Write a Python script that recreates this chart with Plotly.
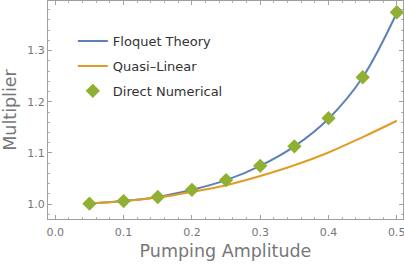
import plotly.graph_objects as go

amp = [0.05, 0.1, 0.15, 0.2, 0.25, 0.3, 0.35, 0.4, 0.45, 0.5]
floquet = [1.001, 1.006, 1.014, 1.028, 1.047, 1.075, 1.113, 1.167, 1.248, 1.374]
quasi = [1.001, 1.006, 1.013, 1.024, 1.037, 1.055, 1.076, 1.101, 1.131, 1.163]
direct = [1.001, 1.006, 1.014, 1.028, 1.047, 1.075, 1.113, 1.168, 1.248, 1.375]

fig = go.Figure()
fig.add_trace(go.Scatter(x=amp, y=floquet, mode="lines", name="Floquet Theory",
                         line=dict(color="#5E81B5", width=2, shape="spline"), legendgroup="a"))
fig.add_trace(go.Scatter(x=amp, y=quasi, mode="lines", name="Quasi\u2013Linear",
                         line=dict(color="#E19C24", width=2, shape="spline"), legendgroup="b"))
fig.add_trace(go.Scatter(x=amp, y=direct, mode="markers", name="Direct Numerical",
                         marker=dict(color="#8FB032", symbol="diamond", size=11), legendgroup="c"))

axcommon = dict(showgrid=False, zeroline=False, showline=True, linecolor="#A0A0A0", linewidth=1,
                mirror="allticks", ticks="inside", ticklen=4, tickcolor="#A0A0A0", automargin=False,
                ticklabeloverflow="allow",
                tickfont=dict(family="DejaVu Sans", size=11, color="#777777"),
                title_font=dict(family="DejaVu Sans", size=17.5, color="#777777"))

fig.update_xaxes(range=[-0.0107, 0.509], tickvals=[0, 0.1, 0.2, 0.3, 0.4, 0.5],
                 ticktext=["0.0", "0.1", "0.2", "0.3", "0.4", "0.5"],
                 minor=dict(ticks="inside", dtick=0.02, ticklen=2, tickcolor="#B0B0B0"),
                 ticklabelstandoff=3,
                 title_text="Pumping Amplitude", title_standoff=6, **axcommon)
fig.update_yaxes(range=[0.971, 1.397], tickvals=[1.0, 1.1, 1.2, 1.3],
                 ticktext=["1.0", "1.1", "1.2", "1.3"],
                 minor=dict(ticks="inside", dtick=0.02, ticklen=2, tickcolor="#B0B0B0"),
                 title_text="Multiplier", title_standoff=6, **axcommon)

fig.update_layout(
    width=404, height=264,
    margin=dict(l=48, r=1, t=1, b=45),
    paper_bgcolor="white", plot_bgcolor="white",
    legend=dict(x=0.07, y=0.885, xanchor="left", yanchor="top", traceorder="grouped",
                tracegroupgap=5, bgcolor="rgba(0,0,0,0)",
                font=dict(family="DejaVu Sans", size=13, color="#333333")),
)
fig.write_html("out.html", config={"displayModeBar": False},
               post_script="document.documentElement.style.overflow='hidden';document.body.style.margin='0';document.body.style.overflow='hidden';")
